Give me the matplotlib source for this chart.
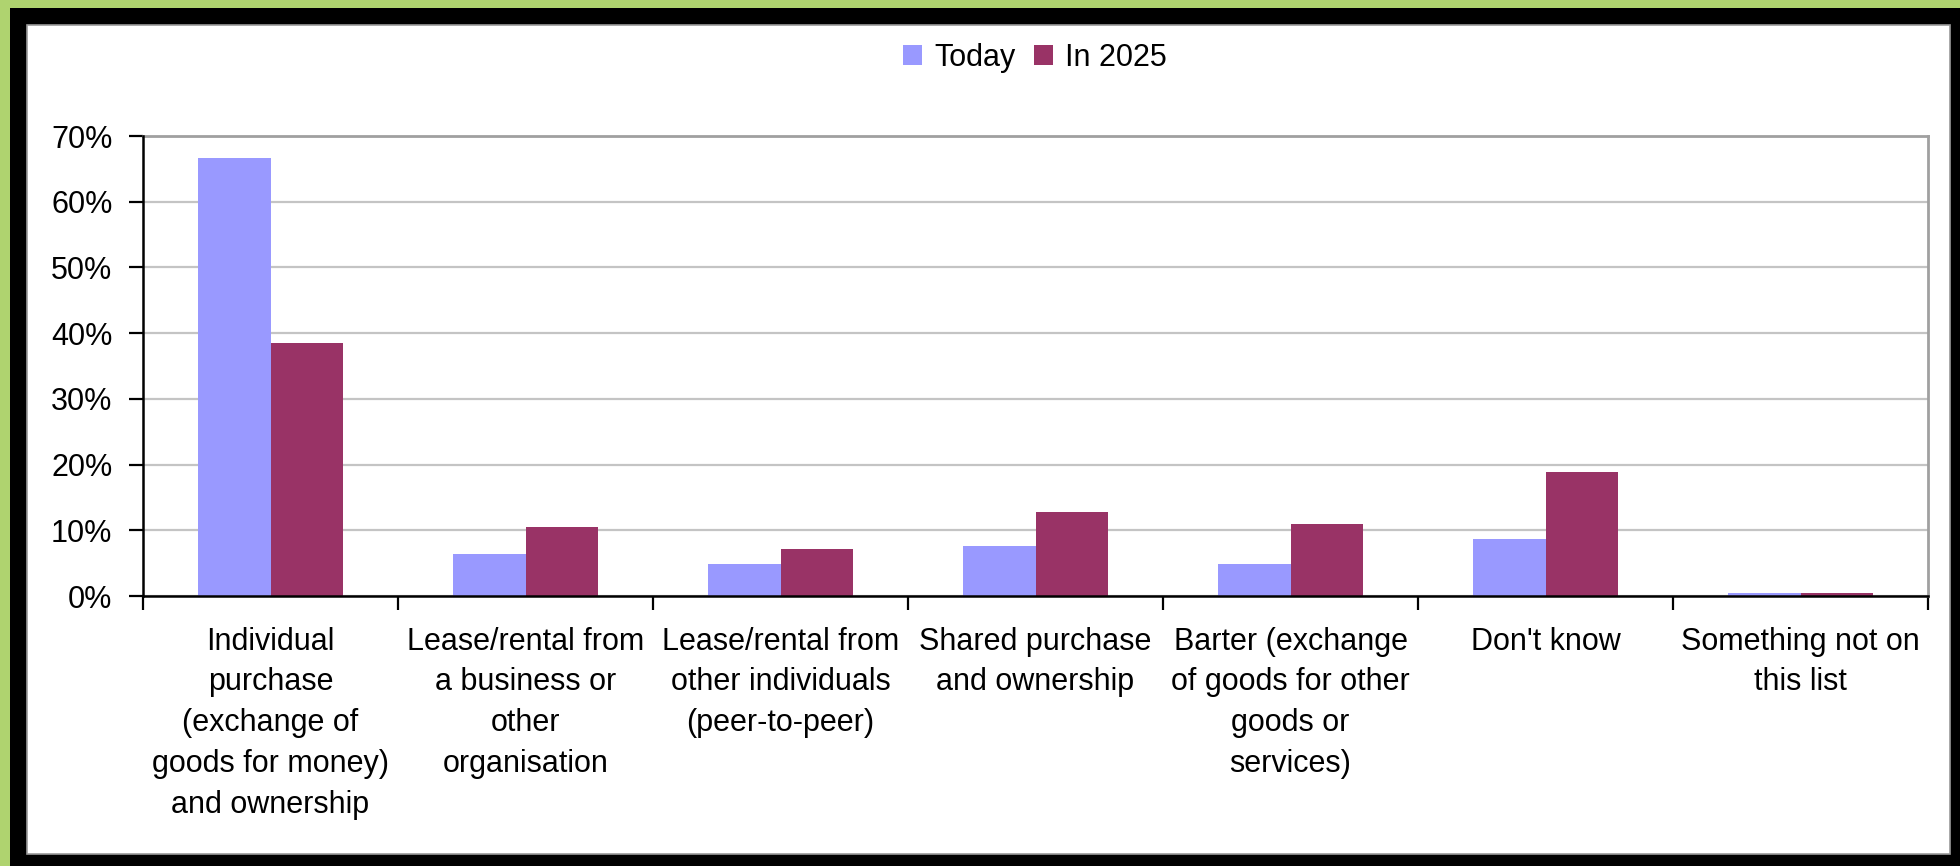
import numpy as np
import matplotlib
matplotlib.use("Agg")
import matplotlib.pyplot as plt
from matplotlib.patches import Rectangle
from matplotlib.ticker import FixedLocator, PercentFormatter

plt.rcParams["font.family"] = ["Liberation Sans", "DejaVu Sans"]

categories = [
    "Individual\npurchase\n(exchange of\ngoods for money)\nand ownership",
    "Lease/rental from\na business or\nother\norganisation",
    "Lease/rental from\nother individuals\n(peer-to-peer)",
    "Shared purchase\nand ownership",
    "Barter (exchange\nof goods for other\ngoods or\nservices)",
    "Don't know",
    "Something not on\nthis list",
]
today = [66.6, 6.4, 4.8, 7.6, 4.9, 8.7, 0.5]
in_2025 = [38.5, 10.5, 7.1, 12.8, 11.0, 18.8, 0.5]
series_names = ["Today", "In 2025"]

TODAY_C, Y2025_C = "#9999ff", "#993366"
FS = 22
W, H = 1960, 866

fig = plt.figure(figsize=(W / 100, H / 100), dpi=100)
fig.patch.set_facecolor("#afd36f")
# black frame and white panel (pixel boxes -> figure fractions)
def box(x0, y0, x1, y1, **kw):
    fig.patches.append(Rectangle((x0 / W, 1 - y1 / H), (x1 - x0) / W, (y1 - y0) / H,
                                 transform=fig.transFigure, zorder=-2, **kw))
box(10, 8, W, H, facecolor="black", edgecolor="none")
box(27, 25, 1950, 854, facecolor="white", edgecolor="#9a9a9a", lw=1.2)

ax = fig.add_axes([143 / W, 1 - 596 / H, (1928 - 143) / W, (596 - 136) / H])
ax.set_zorder(2)
ax.set_facecolor("none")

x = np.arange(len(categories))
bw = 1 / 3.5
ax.bar(x - bw / 2, today, bw, color=TODAY_C, label=series_names[0], zorder=3)
ax.bar(x + bw / 2, in_2025, bw, color=Y2025_C, label=series_names[1], zorder=3)

ax.set_xlim(-0.5, len(categories) - 0.5)
ax.set_ylim(0, 70)
ax.yaxis.set_major_locator(FixedLocator(np.arange(0, 71, 10)))
ax.yaxis.set_major_formatter(PercentFormatter(decimals=0))
ax.grid(axis="y", color="#c4c4c4", lw=1.6, zorder=1)

# category boundary ticks, labels at centres
ax.set_xticks(np.arange(-0.5, len(categories), 1.0))
ax.set_xticklabels([])
ax.set_xticks(x, minor=True)
ax.set_xticklabels(categories, minor=True, fontsize=FS, linespacing=1.47)
ax.tick_params(axis="x", which="major", direction="out", length=10, width=1.6, color="black")
ax.tick_params(axis="x", which="minor", length=0, pad=22)
ax.tick_params(axis="y", direction="out", length=10, width=1.6, labelsize=FS, pad=12)

for s in ("top", "right"):
    ax.spines[s].set_color("#a0a0a0")
    ax.spines[s].set_linewidth(2)
for s in ("left", "bottom"):
    ax.spines[s].set_color("black")
    ax.spines[s].set_linewidth(1.8)
    ax.spines[s].set_zorder(4)

ax.legend(loc="center", bbox_to_anchor=(1035 / W, 1 - 58 / H), bbox_transform=fig.transFigure,
          ncol=2, frameon=False, fontsize=FS, handlelength=0.62, handleheight=0.62,
          handletextpad=0.4, columnspacing=0.6, borderpad=0)

fig.savefig("out.png", dpi=100, facecolor=fig.get_facecolor())
